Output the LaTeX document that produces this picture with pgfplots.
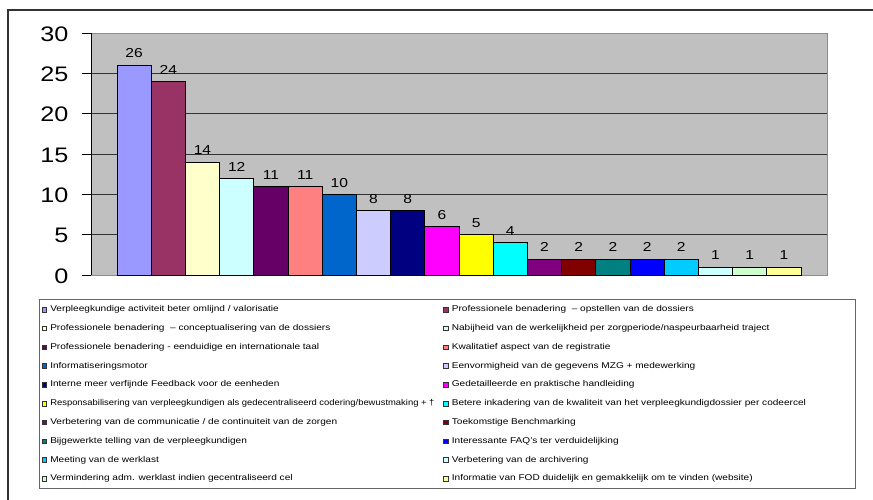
\documentclass[border=0pt]{standalone}
\usepackage{fontspec}
\setmainfont{Liberation Sans}[FakeStretch=1.2]
\usepackage{graphicx}
\usepackage{pgfplots}
\pgfplotsset{compat=1.18}

% Bar colours (classic spreadsheet palette)
\definecolor{c1}{HTML}{9999FF}
\definecolor{c2}{HTML}{993366}
\definecolor{c3}{HTML}{FFFFCC}
\definecolor{c4}{HTML}{CCFFFF}
\definecolor{c5}{HTML}{660066}
\definecolor{c6}{HTML}{FF8080}
\definecolor{c7}{HTML}{0066CC}
\definecolor{c8}{HTML}{CCCCFF}
\definecolor{c9}{HTML}{000080}
\definecolor{c10}{HTML}{FF00FF}
\definecolor{c11}{HTML}{FFFF00}
\definecolor{c12}{HTML}{00FFFF}
\definecolor{c13}{HTML}{800080}
\definecolor{c14}{HTML}{800000}
\definecolor{c15}{HTML}{008080}
\definecolor{c16}{HTML}{0000FF}
\definecolor{c17}{HTML}{00CCFF}
\definecolor{c18}{HTML}{CCFFFF}
\definecolor{c19}{HTML}{CCFFCC}
\definecolor{c20}{HTML}{FFFF99}
\definecolor{plotbg}{HTML}{C0C0C0}

\begin{document}
\begin{tikzpicture}
\useasboundingbox (0pt,0pt) rectangle (873pt,-500pt);
% chart frame
\draw[black!80, line width=1.2pt] (8pt,-500pt) -- (8pt,-10pt) -- (873pt,-10pt);
% legend frame
\draw[black!60, line width=0.8pt] (39pt,-299pt) rectangle (855pt,-488pt);

\begin{axis}[
  scale only axis,
  width=736pt, height=242pt,
  at={(91pt,-275pt)}, anchor=south west,
  xmin=-1.26, xmax=20.26,
  ymin=0, ymax=30,
  xtick=\empty,
  ytick={0,5,...,30},
  ytick pos=left,
  tick align=outside,
  major tick length=9pt,
  tick style={black, line width=0.8pt},
  ymajorgrids,
  grid style={black!80, line width=0.8pt},
  axis background/.style={fill=plotbg},
  axis line style={draw=black!45, line width=0.8pt},
  /pgf/number format/assume math mode=true,
  yticklabel style={font=\fontsize{21}{25}\selectfont, xshift=-10pt, yshift=-1pt},
  ybar, bar width=1, bar shift=0pt,
  every axis plot/.append style={draw=black, line width=0.7pt},
  nodes near coords,
  nodes near coords style={font=\fontsize{13}{15}\selectfont, anchor=south, yshift=3.5pt, text=black},
  legend columns=2,
  legend cell align=left,
  legend style={
    at={(-0.0673,-0.1244)}, anchor=north west,
    draw=none, fill=none,
    font=\fontsize{8.4}{10}\selectfont,
    inner sep=0pt,
    row sep=10.3pt,
    nodes={inner sep=0pt, text height=6.3pt, text depth=2.2pt},
    /tikz/every odd column/.append style={column sep=3.5pt},
    /tikz/every even column/.append style={column sep=5pt},
  },
  legend image code/.code={
    \draw[#1, draw=black!80, line width=0.5pt] (0pt,-2.3pt) rectangle (4.6pt,2.3pt);
  },
]
\addplot[fill=c1] coordinates {(0,26)};
\addlegendentry{Verpleegkundige activiteit beter omlijnd / valorisatie}
\addplot[fill=c2] coordinates {(1,24)};
\addlegendentry{Professionele benadering \ -- opstellen van de dossiers}
\addplot[fill=c3] coordinates {(2,14)};
\addlegendentry{Professionele benadering \ -- conceptualisering van de dossiers}
\addplot[fill=c4] coordinates {(3,12)};
\addlegendentry{Nabijheid van de werkelijkheid per zorgperiode/naspeurbaarheid traject}
\addplot[fill=c5] coordinates {(4,11)};
\addlegendentry{Professionele benadering - eenduidige en internationale taal}
\addplot[fill=c6] coordinates {(5,11)};
\addlegendentry{Kwalitatief aspect van de registratie}
\addplot[fill=c7] coordinates {(6,10)};
\addlegendentry{Informatiseringsmotor}
\addplot[fill=c8] coordinates {(7,8)};
\addlegendentry{Eenvormigheid van de gegevens MZG + medewerking}
\addplot[fill=c9] coordinates {(8,8)};
\addlegendentry{Interne meer verfijnde Feedback voor de eenheden}
\addplot[fill=c10] coordinates {(9,6)};
\addlegendentry{Gedetailleerde en praktische handleiding}
\addplot[fill=c11] coordinates {(10,5)};
\addlegendentry{\makebox[388pt][l]{\scalebox{0.935}[1]{Responsabilisering van verpleegkundigen als gedecentraliseerd codering/bewustmaking + †}}}
\addplot[fill=c12] coordinates {(11,4)};
\addlegendentry{Betere inkadering van de kwaliteit van het verpleegkundigdossier per codeercel}
\addplot[fill=c13] coordinates {(12,2)};
\addlegendentry{Verbetering van de communicatie / de continuiteit van de zorgen}
\addplot[fill=c14] coordinates {(13,2)};
\addlegendentry{Toekomstige Benchmarking}
\addplot[fill=c15] coordinates {(14,2)};
\addlegendentry{Bijgewerkte telling van de verpleegkundigen}
\addplot[fill=c16] coordinates {(15,2)};
\addlegendentry{Interessante FAQ's ter verduidelijking}
\addplot[fill=c17] coordinates {(16,2)};
\addlegendentry{Meeting van de werklast}
\addplot[fill=c18] coordinates {(17,1)};
\addlegendentry{Verbetering van de archivering}
\addplot[fill=c19] coordinates {(18,1)};
\addlegendentry{Vermindering adm. werklast indien gecentraliseerd cel}
\addplot[fill=c20] coordinates {(19,1)};
\addlegendentry{Informatie van FOD duidelijk en gemakkelijk om te vinden (website)}
% left axis line drawn in black over the grey frame
\draw[black, line width=0.8pt] (axis description cs:0,0) -- (axis description cs:0,1);
\end{axis}
\end{tikzpicture}
\end{document}
